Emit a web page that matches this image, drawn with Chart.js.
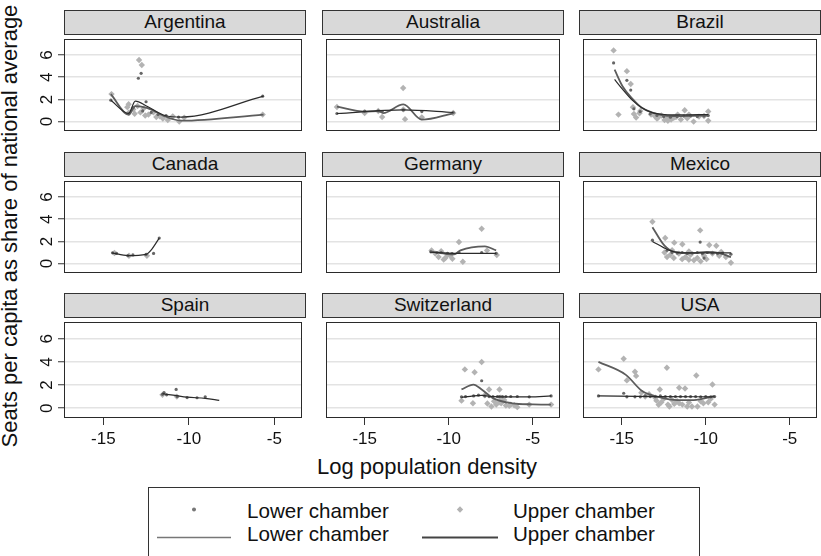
<!DOCTYPE html>
<html>
<head>
<meta charset="utf-8">
<script src="https://cdn.jsdelivr.net/npm/chart.js@4.4.1/dist/chart.umd.min.js"></script>
<style>
  body{margin:0;background:#fff;width:821px;height:556px;position:relative;overflow:hidden;
       font-family:"Liberation Sans",Arial,sans-serif;color:#111;}
  canvas{position:absolute;}
  .hdr{position:absolute;box-sizing:border-box;width:242px;height:25px;background:#d9d9d9;
       border:1px solid #333;text-align:center;font-size:19px;line-height:22px;font-weight:normal;}
  .ttl{position:absolute;font-size:22px;line-height:24px;white-space:nowrap;text-align:center;}
  .leg{position:absolute;box-sizing:border-box;left:148px;top:487px;width:552px;height:90px;border:1px solid #333;}
  .lt{position:absolute;font-size:20.6px;line-height:20.6px;white-space:nowrap;}
</style>
</head>
<body>
<div class="ttl" id="ylab" style="left:-220px;top:214px;width:460px;transform:rotate(-90deg);">Seats per capita as share of national average</div>
<div class="ttl" style="left:227px;top:455px;width:400px;">Log population density</div>

<div class="leg"></div>
<svg width="821" height="556" style="position:absolute;left:0;top:0;">
  <circle cx="194" cy="509.5" r="2" fill="#777"/>
  <polygon points="460,506.3 463.2,509.5 460,512.7 456.8,509.5" fill="#b3b3b3"/>
  <line x1="157" y1="537.5" x2="231" y2="537.5" stroke="#777" stroke-width="1.5"/>
  <line x1="422" y1="537.5" x2="498" y2="537.5" stroke="#444" stroke-width="2"/>
</svg>
<span class="lt" style="left:247px;top:501px;">Lower chamber</span>
<span class="lt" style="left:513px;top:501px;">Upper chamber</span>
<span class="lt" style="left:247px;top:524px;">Lower chamber</span>
<span class="lt" style="left:513px;top:524px;">Upper chamber</span>

<script>
// ---- data ----
const countries=['Argentina','Australia','Brazil','Canada','Germany','Mexico','Spain','Switzerland','USA'];
const xTicks=[-15,-10,-5];
const yTicks=[0,2,4,6];

// lower chamber observations, one list per country
const lowerPoints=[
  [[-14.56,1.93],[-12.95,3.91],[-12.79,4.35],[-12.5,1.79],[-5.68,2.29],[-13.25,1.27],[-12.7,0.96],[-12.2,0.83],[-11.8,0.63],[-11.33,0.55],[-10.6,0.41],[-13.5,0.7]],
  [[-16.65,0.73],[-15.0,0.95],[-14.19,0.97],[-13.96,0.9],[-12.7,1.05],[-11.6,0.9],[-9.73,0.82]],
  [[-15.48,5.29],[-14.69,3.72],[-14.46,2.84],[-14.27,1.15],[-13.9,0.9],[-13.3,0.7],[-12.9,0.55],[-12.5,0.45],[-12.1,0.4],[-11.7,0.45],[-11.3,0.5],[-10.9,0.5],[-10.5,0.45],[-10.1,0.5],[-9.85,0.55]],
  [[-14.46,0.97],[-14.23,0.92],[-13.56,0.72],[-13.27,0.78],[-12.5,0.83],[-12.06,0.92],[-11.73,2.3]],
  [[-11.06,1.06],[-10.45,1.0],[-10.07,0.92],[-9.39,1.0],[-8.04,1.0],[-7.18,0.92],[-10.7,1.0],[-9.8,0.9]],
  [[-13.17,2.11],[-10.33,1.94],[-12.3,1.2],[-12.0,1.0],[-11.7,0.95],[-11.4,1.0],[-11.1,0.9],[-10.8,0.95],[-10.5,1.0],[-10.2,0.9],[-9.9,1.0],[-9.6,0.95],[-9.3,0.9],[-9.0,0.95],[-8.5,0.85],[-10.1,0.5]],
  [[-11.54,1.2],[-11.45,1.35],[-10.74,1.62],[-10.68,1.0],[-10.1,0.92],[-9.52,0.9],[-9.04,0.98],[-11.3,1.15]],
  [[-8.04,2.37],[-9.24,0.98],[-9.0,1.0],[-8.52,1.06],[-8.23,1.12],[-7.85,1.06],[-7.37,1.01],[-6.98,1.01],[-6.6,1.01],[-6.31,1.01],[-5.92,1.01],[-5.21,0.98],[-3.91,1.06],[-7.6,1.0],[-7.1,1.0],[-6.8,1.0]],
  [[-16.38,1.06],[-14.88,1.29],[-14.69,0.98],[-14.21,0.98],[-13.89,0.98],[-13.6,1.06],[-13.3,1.0],[-13.0,1.0],[-12.7,1.06],[-12.4,1.0],[-12.1,1.0],[-11.8,1.0],[-11.5,1.0],[-11.2,1.0],[-10.9,1.0],[-10.6,1.0],[-10.3,0.98],[-10.0,1.0],[-9.7,0.98],[-9.47,1.0]]
];

// upper chamber observations
const upperPoints=[
  [[-14.52,2.48],[-12.91,5.56],[-12.75,5.1],[-5.68,0.63],[-13.52,1.57],[-13.5,0.83],[-13.25,1.1],[-13.17,0.7],[-12.83,0.83],[-12.64,1.19],[-12.55,0.55],[-12.36,0.63],[-12.07,0.83],[-11.9,0.41],[-11.7,0.47],[-11.52,0.28],[-11.23,0.14],[-10.94,0.47],[-10.56,0.0],[-10.27,0.36],[-13.6,1.3],[-13.0,1.4]],
  [[-16.65,1.32],[-15.0,0.77],[-14.19,0.96],[-13.96,0.41],[-12.71,3.03],[-12.6,0.22],[-11.6,0.38],[-9.73,0.77],[-12.7,1.1]],
  [[-15.48,6.42],[-14.69,4.55],[-14.46,3.39],[-15.19,0.63],[-14.33,1.3],[-14.27,0.69],[-14.14,0.36],[-13.94,0.75],[-13.89,0.96],[-13.25,0.63],[-13.02,0.47],[-12.83,0.36],[-12.64,0.55],[-12.45,0.14],[-12.25,0.08],[-12.06,0.19],[-11.77,0.41],[-11.67,0.63],[-11.48,0.19],[-11.25,1.02],[-11.0,0.63],[-10.72,0.0],[-9.85,0.91],[-9.85,0.08],[-12.9,0.28],[-12.3,0.3],[-11.9,0.35],[-11.1,0.3],[-10.4,0.45],[-10.1,0.5]],
  [[-14.35,0.95],[-13.5,0.7],[-12.45,0.7]],
  [[-11.02,1.19],[-10.45,1.11],[-10.3,0.36],[-10.07,0.78],[-9.78,0.44],[-9.39,1.94],[-9.16,0.17],[-8.04,3.14],[-7.72,1.19],[-7.14,0.78],[-10.6,0.6],[-10.2,0.5],[-9.9,0.7],[-10.8,0.9]],
  [[-13.17,3.78],[-12.41,2.31],[-11.87,1.89],[-11.39,1.75],[-10.33,3.0],[-9.79,1.67],[-9.37,1.61],[-9.08,1.06],[-8.5,0.08],[-12.45,1.0],[-12.3,0.6],[-12.1,0.8],[-11.9,0.5],[-11.6,0.9],[-11.4,0.4],[-11.2,0.6],[-11.0,0.35],[-10.9,0.8],[-10.7,0.3],[-10.5,0.5],[-10.3,0.2],[-10.1,0.7],[-9.95,0.4],[-9.6,0.9],[-9.2,0.7],[-8.8,0.6],[-12.0,1.2],[-11.0,1.1]],
  [[-11.54,1.15],[-10.7,1.0]],
  [[-9.04,3.35],[-8.46,3.1],[-8.04,3.99],[-7.6,1.62],[-6.98,1.62],[-9.24,0.65],[-8.56,0.42],[-7.85,1.12],[-7.46,0.15],[-7.17,0.31],[-6.88,0.42],[-6.6,0.23],[-6.31,0.31],[-5.92,0.09],[-5.21,0.31],[-3.91,0.31],[-7.3,0.6],[-7.0,0.5],[-6.7,0.7],[-6.4,0.2],[-7.7,0.4],[-6.1,0.25],[-6.9,0.9]],
  [[-16.38,3.35],[-14.88,4.27],[-14.69,2.4],[-14.21,3.15],[-14.14,2.79],[-13.83,1.34],[-13.37,1.2],[-12.73,1.62],[-12.31,3.49],[-11.58,1.77],[-11.23,1.7],[-10.56,2.82],[-9.6,2.04],[-12.93,0.65],[-12.64,0.51],[-12.25,0.31],[-12.16,0.15],[-11.87,0.37],[-11.58,0.42],[-11.39,0.31],[-11.1,0.15],[-10.82,0.15],[-10.49,0.15],[-10.14,0.42],[-9.85,0.51],[-9.47,0.31],[-13.0,0.9],[-12.5,0.8],[-12.0,0.7],[-11.7,0.6],[-11.0,0.5],[-10.3,0.6],[-9.7,0.8],[-13.6,1.0],[-12.8,0.3]]
];

// smoothed fits
const lowerFit=[
  [[-14.56,1.93],[-13.52,0.74],[-13.13,1.84],[-12.45,1.38],[-11.4,0.55],[-10.43,0.41],[-5.63,2.29]],
  [[-16.65,0.73],[-12.7,1.05],[-9.73,0.82]],
  [[-15.42,3.8],[-14.94,2.9],[-14.37,1.93],[-13.8,1.24],[-13.22,0.83],[-12.45,0.64],[-11.5,0.6],[-9.85,0.64]],
  [[-14.5,0.97],[-13.56,0.72],[-12.5,0.83],[-12.22,1.19],[-11.73,2.3]],
  [[-11.12,1.02],[-9.68,0.92],[-7.18,0.92]],
  [[-13.17,2.0],[-12.25,1.25],[-11.48,0.97],[-9.95,0.97],[-8.5,0.97]],
  [[-11.54,1.25],[-10.8,1.1],[-10.1,0.95],[-9.04,0.85],[-8.22,0.68]],
  [[-9.24,0.92],[-8.52,1.06],[-8.04,1.1],[-7.37,1.0],[-6.2,0.98],[-5.2,0.98],[-3.91,1.06]],
  [[-16.38,1.06],[-12.9,1.0],[-9.47,0.98]]
];
const upperFit=[
  [[-14.56,2.48],[-13.52,0.63],[-13.13,1.4],[-12.45,1.24],[-11.4,0.47],[-10.43,0.08],[-5.63,0.63]],
  [[-16.65,1.35],[-15.0,0.9],[-14.19,0.95],[-13.9,0.77],[-12.7,1.55],[-11.6,0.17],[-9.73,0.75]],
  [[-15.42,4.68],[-14.94,3.17],[-14.37,2.07],[-13.8,1.24],[-13.22,0.83],[-12.45,0.55],[-11.5,0.5],[-9.85,0.55]],
  [],
  [[-11.12,1.11],[-9.68,0.83],[-9.3,1.19],[-7.85,1.56],[-7.18,1.19]],
  [[-13.17,3.28],[-12.45,1.61],[-11.87,1.06],[-10.72,0.95],[-9.95,1.06],[-9.18,0.95],[-8.5,0.58]],
  [],
  [[-9.24,1.62],[-8.53,2.04],[-8.04,1.62],[-7.37,0.87],[-6.22,0.42],[-5.0,0.33],[-3.92,0.31]],
  [[-16.38,4.0],[-14.75,2.88],[-13.78,1.48],[-12.82,0.98],[-11.67,0.7],[-10.71,0.7],[-9.47,1.06]]
];

// ---- layout ----
const COL_L=[64,322,579], PLOT_T=[35,177,318], PW=242, PH=100, AX_W=40, AX_H=34;
const X_MIN=-17.3, X_MAX=-3.38, Y_MIN=-0.85, Y_MAX=7.45;
const FONT='"Liberation Sans", Arial, sans-serif';
Chart.defaults.font.family=FONT;

const toXY=a=>a.map(p=>({x:p[0],y:p[1]}));

countries.forEach((name,i)=>{
  const r=Math.floor(i/3), c=i%3;
  const hasY=c===0, hasX=r===2;

  const hdr=document.createElement('div');
  hdr.className='hdr'; hdr.textContent=name;
  hdr.style.left=COL_L[c]+'px'; hdr.style.top=(PLOT_T[r]-25)+'px';
  document.body.appendChild(hdr);

  const cv=document.createElement('canvas');
  const w=PW+(hasY?AX_W:0), h=PH+(hasX?AX_H:0);
  cv.width=w; cv.height=h;
  cv.style.width=w+'px'; cv.style.height=h+'px';
  cv.style.left=(COL_L[c]-(hasY?AX_W:0))+'px'; cv.style.top=PLOT_T[r]+'px';
  document.body.appendChild(cv);

  const frame={id:'frame',afterDraw(ch){
    const {ctx,chartArea:a}=ch;
    ctx.save();
    ctx.strokeStyle='#2a2a2a'; ctx.lineWidth=1;
    ctx.strokeRect(a.left+0.5,a.top+0.5,a.right-a.left-1,a.bottom-a.top-1);
    if(hasY){
      const ys=ch.scales.y;
      ctx.font='17px '+FONT; ctx.fillStyle='#111';
      ctx.textAlign='center'; ctx.textBaseline='middle';
      ys.ticks.forEach(t=>{
        ctx.save();
        ctx.translate(a.left-17,ys.getPixelForValue(t.value));
        ctx.rotate(-Math.PI/2);
        ctx.fillText(String(t.value),0,0);
        ctx.restore();
      });
    }
    ctx.restore();
  }};

  new Chart(cv,{
    type:'scatter',
    data:{datasets:[
      {data:toXY(lowerFit[i]),showLine:true,borderColor:'#2b2b2b',borderWidth:1.2,pointRadius:0,cubicInterpolationMode:'monotone'},
      {data:toXY(upperFit[i]),showLine:true,borderColor:'#5c5c5c',borderWidth:1.8,pointRadius:0,cubicInterpolationMode:'monotone'},
      {data:toXY(lowerPoints[i]),pointStyle:'circle',pointRadius:1.6,backgroundColor:'#666',borderWidth:0},
      {data:toXY(upperPoints[i]),pointStyle:'rectRot',pointRadius:3.2,backgroundColor:'#b3b3b3',borderWidth:0}
    ]},
    options:{
      responsive:false,animation:false,devicePixelRatio:1,
      layout:{padding:0},
      plugins:{legend:{display:false},tooltip:{enabled:false}},
      scales:{
        x:{type:'linear',min:X_MIN,max:X_MAX,display:hasX,
           afterFit:s=>{s.height=hasX?AX_H:0;},
           afterBuildTicks:s=>{s.ticks=xTicks.map(v=>({value:v}));},
           border:{display:false},
           grid:{drawOnChartArea:false,drawTicks:true,tickLength:7,tickColor:'#333',tickWidth:1},
           ticks:{font:{size:17},color:'#111',padding:4,maxRotation:0}},
        y:{type:'linear',min:Y_MIN,max:Y_MAX,
           afterFit:s=>{s.width=hasY?AX_W:0;},
           afterBuildTicks:s=>{s.ticks=yTicks.map(v=>({value:v}));},
           border:{display:false},
           grid:{color:'#e3e3e3',lineWidth:1.5,drawTicks:hasY,tickLength:6,tickColor:'#333',tickWidth:1},
           ticks:{display:false}}
      }
    },
    plugins:[frame]
  });
});
</script>
</body>
</html>
